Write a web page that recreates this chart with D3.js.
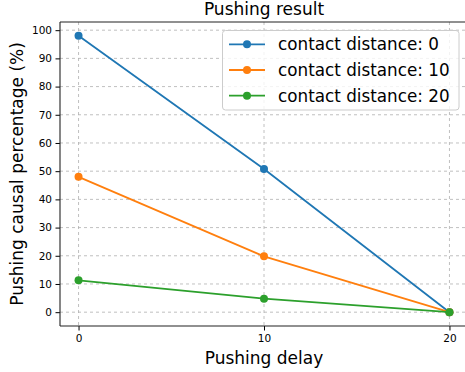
<!DOCTYPE html>
<html><head><meta charset="utf-8">
<script src="https://cdn.jsdelivr.net/npm/d3@7"></script>
<style>body{margin:0;background:#fff}svg{display:block}text{font-family:"DejaVu Sans",sans-serif;fill:#000}</style>
</head><body>
<script>
const delays = [0, 10, 20];
const seriesNames = ["contact distance: 0", "contact distance: 10", "contact distance: 20"];
const dist0 = [98, 50.8, 0];
const dist10 = [48, 19.8, 0];
const dist20 = [11.3, 4.8, 0];
const colors = ["#1f77b4", "#ff7f0e", "#2ca02c"];
const xTicks = [0, 10, 20];
const yTicks = [0, 10, 20, 30, 40, 50, 60, 70, 80, 90, 100];
const series = [dist0, dist10, dist20];

const W = 465, H = 372;
const svg = d3.select("body").append("svg").attr("width", W).attr("height", H);
const L = 60, R = 468, T = 22, B = 326;
const x = d3.scaleLinear().domain([-1, 21]).range([L, R]);
const y = d3.scaleLinear().domain([-4.9, 102.9]).range([B, T]);

// grid
const g = svg.append("g");
g.selectAll(".gx").data(xTicks).join("line")
  .attr("x1", d => x(d)).attr("x2", d => x(d)).attr("y1", T).attr("y2", B)
  .attr("stroke", "#b0b0b0").attr("stroke-width", 0.8).attr("stroke-dasharray", "3,3");
g.selectAll(".gy").data(yTicks).join("line")
  .attr("x1", L).attr("x2", R).attr("y1", d => y(d)).attr("y2", d => y(d))
  .attr("stroke", "#b0b0b0").attr("stroke-width", 0.8).attr("stroke-dasharray", "3,3");

// axes
const xAxis = d3.axisBottom(x).tickValues(xTicks).tickSize(4.5).tickPadding(4);
const yAxis = d3.axisLeft(y).tickValues(yTicks).tickSize(4.5).tickPadding(3.5);
const ax = svg.append("g").attr("transform", `translate(0,${B})`).call(xAxis);
const ay = svg.append("g").attr("transform", `translate(${L},0)`).call(yAxis);
[ax, ay].forEach(a => {
  a.select(".domain").remove();
  a.selectAll("text").style("font-family", "DejaVu Sans").style("font-size", "10.5px").attr("fill", "#000");
  a.selectAll("line").attr("stroke", "#000").attr("stroke-width", 1);
});

// spines
svg.append("line").attr("x1", L).attr("x2", L).attr("y1", T).attr("y2", B).attr("stroke", "#222").attr("stroke-width", 1.1);
svg.append("line").attr("x1", L).attr("x2", R).attr("y1", B).attr("y2", B).attr("stroke", "#222").attr("stroke-width", 1.1);
svg.append("line").attr("x1", L).attr("x2", R).attr("y1", T).attr("y2", T).attr("stroke", "#222").attr("stroke-width", 1.1);

// lines
const line = d3.line().x((d, i) => x(delays[i])).y(d => y(d));
series.forEach((s, k) => {
  svg.append("path").attr("d", line(s)).attr("fill", "none").attr("stroke", colors[k]).attr("stroke-width", 1.8);
  svg.selectAll(null).data(s).join("circle")
    .attr("cx", (d, i) => x(delays[i])).attr("cy", d => y(d)).attr("r", 4).attr("fill", colors[k]);
});

// labels
svg.append("text").attr("x", (L + R) / 2).attr("y", 14.5).attr("text-anchor", "middle").style("font-size", "17px").text("Pushing result");
svg.append("text").attr("x", (L + R) / 2).attr("y", 364).attr("text-anchor", "middle").style("font-size", "17px").text("Pushing delay");
svg.append("text").attr("transform", `translate(23,${(T + B) / 2}) rotate(-90)`).attr("text-anchor", "middle").style("font-size", "17px").text("Pushing causal percentage (%)");

// legend
const lg = svg.append("g");
lg.append("rect").attr("x", 222.5).attr("y", 30.5).attr("width", 236.5).attr("height", 79.5).attr("rx", 3)
  .attr("fill", "#fff").attr("fill-opacity", 0.8).attr("stroke", "#cccccc").attr("stroke-width", 1);
seriesNames.forEach((n, k) => {
  const cy = 44.3 + k * 25.7;
  lg.append("line").attr("x1", 229).attr("x2", 265).attr("y1", cy).attr("y2", cy).attr("stroke", colors[k]).attr("stroke-width", 1.8);
  lg.append("circle").attr("cx", 247).attr("cy", cy).attr("r", 4).attr("fill", colors[k]);
  lg.append("text").attr("x", 278).attr("y", cy + 6).style("font-size", "16.8px").text(n);
});
</script>
</body></html>
